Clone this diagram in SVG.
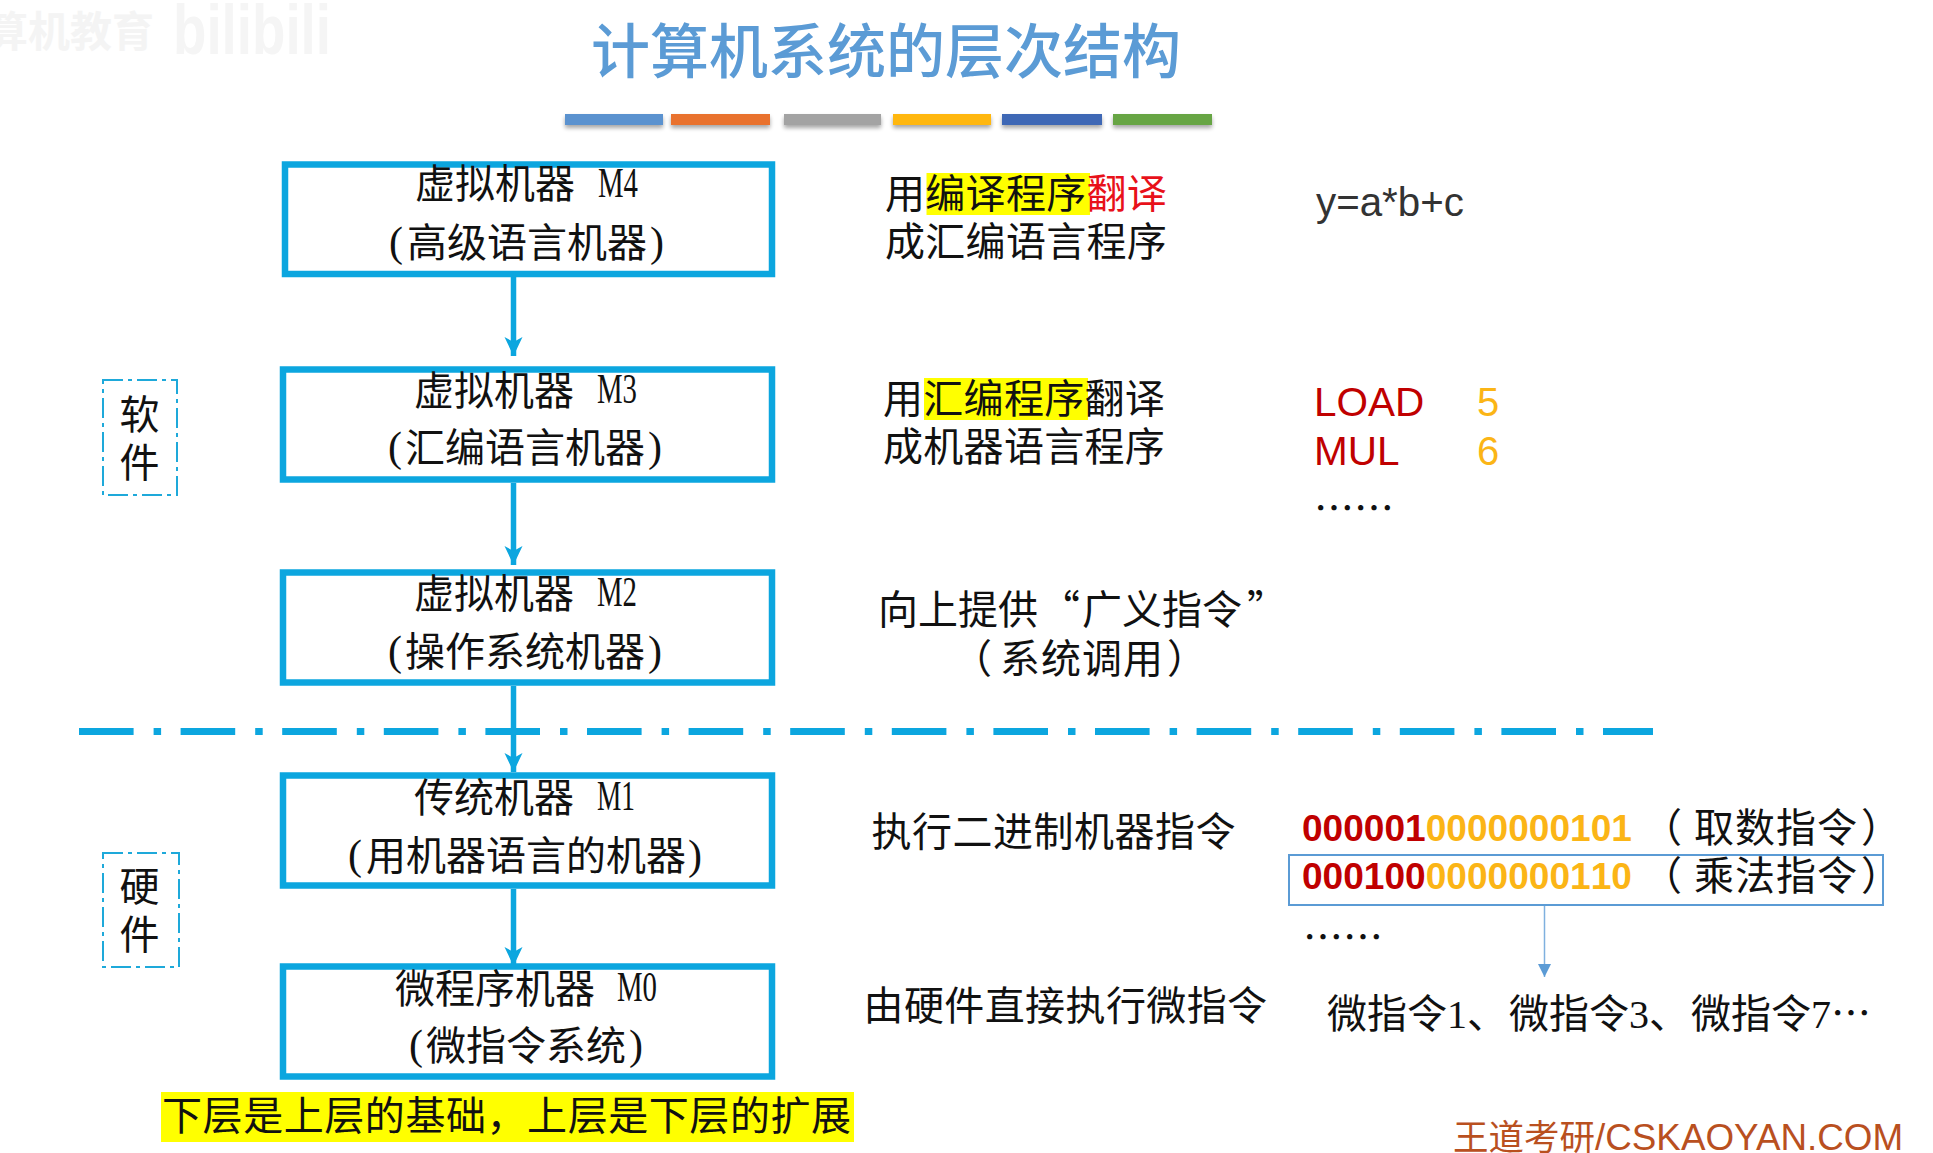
<svg xmlns="http://www.w3.org/2000/svg" width="1933" height="1153" viewBox="0 0 1933 1153">
<style>
text{font-family:"Noto Sans CJK SC","Liberation Serif",sans-serif;font-size:40px;fill:#111;white-space:pre}
.c{text-anchor:middle}
.m{font-family:"Liberation Serif","Noto Sans CJK SC",serif}
.mm{font-family:"Liberation Serif",serif;font-size:42px}
.box{fill:none;stroke:#0ca6df;stroke-width:6.5}
.side{fill:none;stroke:#1ea9da;stroke-width:2;stroke-dasharray:20 5 4 5}
.a{fill:none;stroke:#0ca6df;stroke-width:5.5}
.hl{fill:#ffff00}
.lat{font-family:"Liberation Sans",Arial,sans-serif}
.r{fill:#c00000}
.y{fill:#fbb516}
.bin{font-family:"Liberation Sans",Arial,sans-serif;font-weight:700;font-size:37.100px;font-kerning:none}
</style>
<defs>
<marker id="st" markerUnits="userSpaceOnUse" markerWidth="20" markerHeight="22" refX="19" refY="10" orient="auto">
<path d="M0 1 L19 10 L0 19 L5 10 Z" fill="#0ca6df"/>
</marker>
<marker id="tri" markerUnits="userSpaceOnUse" markerWidth="14" markerHeight="14" refX="13" refY="6.5" orient="auto">
<path d="M0 0 L13 6.5 L0 13 Z" fill="#5b9bd5"/>
</marker>
<filter id="sh" x="-5%" y="-50%" width="110%" height="250%"><feGaussianBlur stdDeviation="2"/></filter>
</defs>
<rect width="1933" height="1153" fill="#fff"/>

<g id="watermark">
<text x="-14" y="47" style="font-size:42px;font-weight:700;fill:#f4f4f4">算机教育</text>
<text x="173" y="54" textLength="158" lengthAdjust="spacingAndGlyphs" style="font-family:'Liberation Sans',sans-serif;font-size:70px;font-weight:700;fill:#f5f5f5">bilibili</text>
</g>

<g id="title">
<text x="886" y="73" class="c" style="font-size:59px;fill:#5b9bd5;font-weight:500">计算机系统的层次结构</text>
</g>

<g id="title-bars">
<g fill="#000" opacity=".35" filter="url(#sh)">
<rect x="565" y="117" width="98" height="11"/><rect x="671" y="117" width="99" height="11"/><rect x="784" y="117" width="97" height="11"/><rect x="893" y="117" width="98" height="11"/><rect x="1002" y="117" width="100" height="11"/><rect x="1113" y="117" width="99" height="11"/>
</g>
<rect x="565" y="114" width="98" height="11" fill="#5b92cf"/>
<rect x="671" y="114" width="99" height="11" fill="#e9722e"/>
<rect x="784" y="114" width="97" height="11" fill="#a3a3a3"/>
<rect x="893" y="114" width="98" height="11" fill="#ffb70f"/>
<rect x="1002" y="114" width="100" height="11" fill="#3f68b5"/>
<rect x="1113" y="114" width="99" height="11" fill="#67a544"/>
</g>

<g id="connectors">
<line x1="513.500" y1="277" x2="513.500" y2="356" class="a" marker-end="url(#st)"/>
<line x1="513.500" y1="483" x2="513.500" y2="565" class="a" marker-end="url(#st)"/>
<line x1="513.500" y1="686" x2="513.500" y2="772" class="a" marker-end="url(#st)"/>
<line x1="513.500" y1="889" x2="513.500" y2="966" class="a" marker-end="url(#st)"/>
<line x1="1544.500" y1="905" x2="1544.500" y2="977" stroke="#7fb0df" stroke-width="1.500" marker-end="url(#tri)"/>
</g>

<g id="divider">
<line x1="79" y1="731.500" x2="1653" y2="731.500" stroke="#0ca6df" stroke-width="7" stroke-dasharray="54.600 20 7.500 19.500"/>
</g>

<g id="M4">
<rect x="285" y="164.500" width="487" height="109.500" class="box"/>
<text x="415" y="198">虚拟机器</text>
<text x="598" y="197" class="mm" textLength="40" lengthAdjust="spacingAndGlyphs">M4</text>
<text x="389" y="256" class="mm">(</text><text x="407" y="257">高级语言机器</text><text x="650" y="256" class="mm">)</text>
</g>
<g id="M3">
<rect x="283" y="369.500" width="489" height="110" class="box"/>
<text x="414" y="405">虚拟机器</text>
<text x="597" y="403" class="mm" textLength="40" lengthAdjust="spacingAndGlyphs">M3</text>
<text x="388" y="461" class="mm">(</text><text x="405" y="462">汇编语言机器</text><text x="648" y="461" class="mm">)</text>
</g>
<g id="M2">
<rect x="283" y="572.500" width="489" height="110" class="box"/>
<text x="414" y="608">虚拟机器</text>
<text x="597" y="606" class="mm" textLength="40" lengthAdjust="spacingAndGlyphs">M2</text>
<text x="388" y="665" class="mm">(</text><text x="405" y="666">操作系统机器</text><text x="648" y="665" class="mm">)</text>
</g>
<g id="M1">
<rect x="283" y="775.500" width="489" height="110" class="box"/>
<text x="414" y="812">传统机器</text>
<text x="597" y="810" class="mm" textLength="38" lengthAdjust="spacingAndGlyphs">M1</text>
<text x="348" y="869" class="mm">(</text><text x="366" y="870">用机器语言的机器</text><text x="688" y="869" class="mm">)</text>
</g>
<g id="M0">
<rect x="283" y="966.500" width="489" height="110" class="box"/>
<text x="395" y="1003">微程序机器</text>
<text x="617" y="1001" class="mm" textLength="40" lengthAdjust="spacingAndGlyphs">M0</text>
<text x="409" y="1059" class="mm">(</text><text x="426" y="1060">微指令系统</text><text x="629" y="1059" class="mm">)</text>
</g>

<g id="software">
<rect x="103" y="380" width="74" height="115" class="side"/>
<text x="139.500" y="429" class="c">软</text>
<text x="139.500" y="477" class="c">件</text>
</g>
<g id="hardware">
<rect x="103" y="853" width="76" height="114" class="side"/>
<text x="139.500" y="901" class="c">硬</text>
<text x="139.500" y="949" class="c">件</text>
</g>

<g id="note-bottom">
<rect x="161" y="1092" width="693" height="50" class="hl"/>
<text x="162" y="1130" textLength="689">下层是上层的基础，上层是下层的扩展</text>
</g>

<g id="desc-M4">
<rect x="926.500" y="173" width="163.500" height="42" class="hl"/>
<text x="885" y="208" style="letter-spacing:.3px">用编译程序<tspan fill="#e8111a">翻译</tspan></text>
<text x="885" y="256" style="letter-spacing:.3px">成汇编语言程序</text>
</g>
<g id="desc-M3">
<rect x="924" y="378" width="164" height="42" class="hl"/>
<text x="883" y="413" style="letter-spacing:.3px">用汇编程序翻译</text>
<text x="883" y="461" style="letter-spacing:.3px">成机器语言程序</text>
</g>
<g id="desc-M2">
<text x="878" y="624">向上提供</text><text x="1040" y="624">“</text><text x="1082" y="624">广义指令</text><text x="1247" y="624">”</text>
<text x="952" y="673">（</text><text x="1000" y="673" style="letter-spacing:1px">系统调用</text><text x="1167" y="673">）</text>
</g>
<g id="desc-M1"><text x="871.500" y="846" style="letter-spacing:.5px">执行二进制机器指令</text></g>
<g id="desc-M0"><text x="863.500" y="1020" style="letter-spacing:.4px">由硬件直接执行微指令</text></g>

<g id="code-M4"><text x="1316" y="216" class="lat" style="font-size:40.300px;fill:#333">y=a*b+c</text></g>
<g id="code-M3">
<text x="1314" y="416" class="lat r" style="font-size:40.500px">LOAD</text>
<text x="1477" y="416" class="lat y">5</text>
<text x="1314" y="465" class="lat r" style="font-size:40.500px">MUL</text>
<text x="1477" y="465" class="lat y">6</text>
<text x="1314" y="523">……</text>
</g>
<g id="code-M1">
<text x="1302" y="841" class="bin"><tspan class="r">000001</tspan><tspan class="y">0000000101</tspan></text>
<text x="1642" y="842">（</text><text x="1694" y="842" style="letter-spacing:1px">取数指令</text><text x="1861" y="842">）</text>
<rect x="1289" y="855" width="594" height="50" fill="none" stroke="#5b9bd5" stroke-width="2"/>
<text x="1302" y="889" class="bin"><tspan class="r">000100</tspan><tspan class="y">0000000110</tspan></text>
<text x="1642" y="890">（</text><text x="1694" y="890" style="letter-spacing:1px">乘法指令</text><text x="1861" y="890">）</text>
<text x="1303" y="952">……</text>
</g>
<g id="code-M0">
<text x="1327" y="1028">微指令<tspan class="m">1</tspan>、<tspan x="1509">微指令</tspan><tspan class="m">3</tspan>、<tspan x="1691">微指令</tspan><tspan class="m">7</tspan>…</text>
</g>

<g id="credit">
<text x="1453" y="1150" style="font-size:35.500px;fill:#b9501f">王道考研<tspan class="lat" style="font-size:36.800px">/CSKAOYAN.COM</tspan></text>
</g>
</svg>
